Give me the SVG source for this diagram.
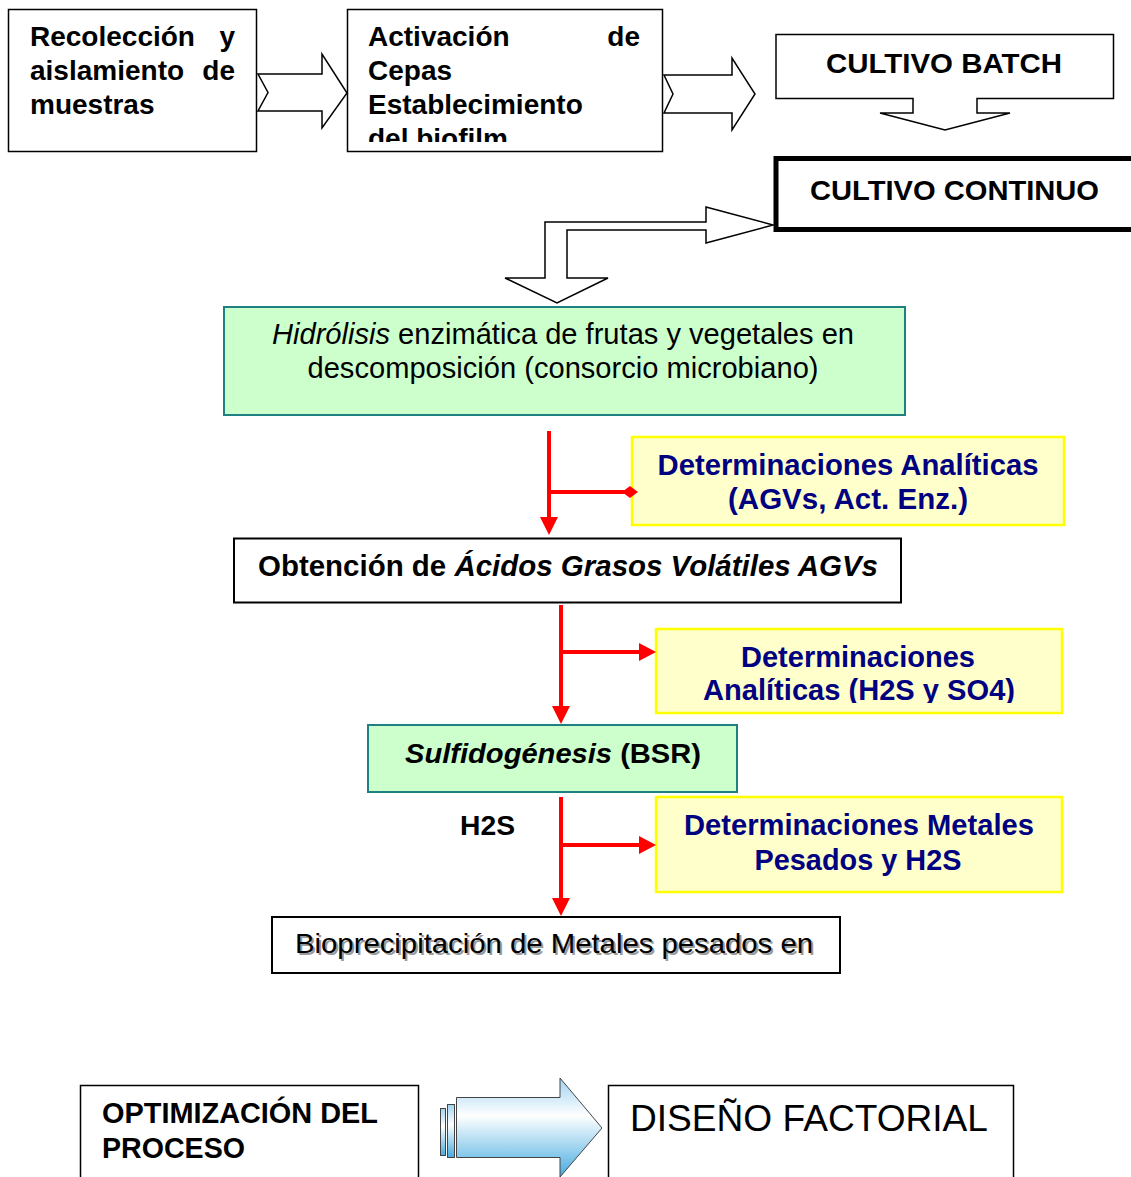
<svg xmlns="http://www.w3.org/2000/svg" width="1131" height="1177" viewBox="0 0 1131 1177">
<style>
.box{fill:#fff;stroke:#000;stroke-width:1.5}
.green{fill:#CCFFCC;stroke:#1E8080;stroke-width:2}
.yellow{fill:#FFFFCC;stroke:#FFFF00;stroke-width:2.5}
.blk{fill:#fff;stroke:#000;stroke-width:1.5;stroke-linejoin:miter}
.t{font-family:"Liberation Sans",Arial,sans-serif;fill:#000}
.b{font-weight:bold}
.nv{fill:#000080;font-weight:bold}
.red{stroke:#FF0000;stroke-width:4;fill:none}
.rh{fill:#FF0000}
</style>
<defs>
<clipPath id="c2"><rect x="347" y="9" width="316" height="133"/></clipPath>
<clipPath id="cy2"><rect x="656" y="629" width="406" height="74"/></clipPath>
<linearGradient id="bl" x1="0" y1="0" x2="0" y2="1">
<stop offset="0" stop-color="#9FD3F2"/>
<stop offset="0.38" stop-color="#FFFFFF"/>
<stop offset="1" stop-color="#45ABE0"/>
</linearGradient>
</defs>

<g id="n-recoleccion">
<rect class="box" x="8.5" y="9.5" width="248" height="142"/>
<text class="t b" font-size="28" x="30" y="46">Recolección</text>
<text class="t b" font-size="28" x="235" y="46" text-anchor="end">y</text>
<text class="t b" font-size="28" x="30" y="80">aislamiento</text>
<text class="t b" font-size="28" x="235" y="80" text-anchor="end">de</text>
<text class="t b" font-size="28" x="30" y="114">muestras</text>
</g>

<g id="n-activacion">
<rect class="box" x="347.5" y="9.5" width="315" height="142"/>
<g clip-path="url(#c2)">
<text class="t b" font-size="28" x="368" y="46">Activación</text>
<text class="t b" font-size="28" x="640" y="46" text-anchor="end">de</text>
<text class="t b" font-size="28" x="368" y="80">Cepas</text>
<text class="t b" font-size="28" x="368" y="114">Establecimiento</text>
<text class="t b" font-size="28" x="368" y="148">del biofilm</text>
</g>
</g>

<g id="n-batch">
<path class="blk" d="M776,34.5 H1113.5 V98.5 H977 V113 H1010 L945,130 L880,113 H913 V98.5 H776 Z"/>
<text class="t b" font-size="28" x="826" y="73" textLength="236" lengthAdjust="spacingAndGlyphs">CULTIVO BATCH</text>
</g>

<g id="n-continuo">
<rect x="776" y="158.5" width="400" height="71" fill="#fff" stroke="#000" stroke-width="5"/>
<text class="t b" font-size="28" x="810" y="200" textLength="289" lengthAdjust="spacingAndGlyphs">CULTIVO CONTINUO</text>
</g>

<g id="n-hidrolisis">
<rect class="green" x="224" y="307" width="681" height="108"/>
<text class="t" font-size="29" x="563" y="344" text-anchor="middle" textLength="582" lengthAdjust="spacingAndGlyphs"><tspan font-style="italic">Hidrólisis</tspan> enzimática de frutas y vegetales en</text>
<text class="t" font-size="29" x="563" y="378" text-anchor="middle" textLength="511" lengthAdjust="spacingAndGlyphs">descomposición (consorcio microbiano)</text>
</g>

<g id="n-det1">
<rect class="yellow" x="632" y="437" width="432" height="88"/>
<text class="t nv" font-size="29" x="848" y="475" text-anchor="middle" textLength="381" lengthAdjust="spacingAndGlyphs">Determinaciones Analíticas</text>
<text class="t nv" font-size="29" x="848" y="509" text-anchor="middle" textLength="240" lengthAdjust="spacingAndGlyphs">(AGVs, Act. Enz.)</text>
</g>

<g id="n-obtencion">
<rect x="234" y="538.5" width="667" height="64" fill="#fff" stroke="#000" stroke-width="2"/>
<text class="t b" font-size="29" x="258" y="576" textLength="620" lengthAdjust="spacingAndGlyphs">Obtención de <tspan font-style="italic">Ácidos Grasos Volátiles AGVs</tspan></text>
</g>

<g id="n-det2">
<rect class="yellow" x="656" y="629" width="406" height="84"/>
<g clip-path="url(#cy2)">
<text class="t nv" font-size="29" x="858" y="667" text-anchor="middle" textLength="234" lengthAdjust="spacingAndGlyphs">Determinaciones</text>
<text class="t nv" font-size="29" x="859" y="700" text-anchor="middle" textLength="312" lengthAdjust="spacingAndGlyphs">Analíticas (H2S y SO4)</text>
</g>
</g>

<g id="n-sulfido">
<rect class="green" x="368" y="725" width="369" height="67"/>
<text class="t b" font-size="28" x="553" y="763" text-anchor="middle" textLength="296" lengthAdjust="spacingAndGlyphs"><tspan font-style="italic">Sulfidogénesis</tspan> (BSR)</text>
</g>

<g id="n-det3">
<rect class="yellow" x="656" y="797" width="406" height="95"/>
<text class="t nv" font-size="29" x="859" y="835" text-anchor="middle" textLength="350" lengthAdjust="spacingAndGlyphs">Determinaciones Metales</text>
<text class="t nv" font-size="29" x="858" y="870" text-anchor="middle" textLength="207" lengthAdjust="spacingAndGlyphs">Pesados y H2S</text>
</g>

<g id="n-biopre">
<rect x="272" y="917" width="568" height="56" fill="#fff" stroke="#000" stroke-width="2"/>
<text class="t" font-size="28" x="297" y="955" style="fill:#9a9a9a" textLength="518" lengthAdjust="spacingAndGlyphs">Bioprecipitación de Metales pesados en</text>
<text class="t" font-size="28" x="295" y="953" textLength="518" lengthAdjust="spacingAndGlyphs">Bioprecipitación de Metales pesados en</text>
</g>

<g id="n-optimizacion">
<rect class="box" x="80.5" y="1085.5" width="338" height="100"/>
<text class="t b" font-size="29" x="102" y="1123" textLength="276" lengthAdjust="spacingAndGlyphs">OPTIMIZACIÓN DEL</text>
<text class="t b" font-size="29" x="102" y="1158" textLength="143" lengthAdjust="spacingAndGlyphs">PROCESO</text>
</g>

<g id="n-diseno">
<rect class="box" x="608.5" y="1085.5" width="405" height="100"/>
<text class="t" font-size="36" x="630" y="1131" textLength="358" lengthAdjust="spacingAndGlyphs">DISEÑO FACTORIAL</text>
</g>

<g id="connectors">
<path class="blk" d="M258,74 H322 V54 L347,93 L322,128 V111 H258 L268,92.5 Z"/>
<path class="blk" d="M664,75 H732 V58 L755,94 L732,130 V113 H664 L673,94 Z"/>
<path class="blk" d="M773,225 L706,207 V222 H545 V278 H505 L557,303 L608,278 H567 V230 H706 V243 Z"/>

<line class="red" x1="549" y1="431" x2="549" y2="518"/>
<path class="rh" d="M540,517 H558 L549,535 Z"/>
<line class="red" x1="549" y1="492" x2="628" y2="492"/>
<path class="rh" d="M622,492 L630,486 L638,492 L630,498 Z"/>

<line class="red" x1="561" y1="605" x2="561" y2="707"/>
<path class="rh" d="M552,706 H570 L561,724 Z"/>
<line class="red" x1="561" y1="652" x2="642" y2="652"/>
<path class="rh" d="M639,643 V661 L656,652 Z"/>

<line class="red" x1="561" y1="797" x2="561" y2="899"/>
<path class="rh" d="M552,898 H570 L561,916 Z"/>
<line class="red" x1="561" y1="845" x2="642" y2="845"/>
<path class="rh" d="M639,836 V854 L656,845 Z"/>

<g stroke="#444" stroke-width="1">
<rect x="440.5" y="1108.5" width="5" height="47" fill="url(#bl)"/>
<rect x="447.5" y="1104.5" width="7" height="53" fill="url(#bl)"/>
<path d="M456.5,1097.5 H560 V1078 L602,1128 L560,1177 V1157.5 H456.5 Z" fill="url(#bl)"/>
</g>
</g>

<g id="label-h2s">
<text class="t b" font-size="28" x="460" y="835" textLength="55" lengthAdjust="spacingAndGlyphs">H2S</text>
</g>
</svg>
